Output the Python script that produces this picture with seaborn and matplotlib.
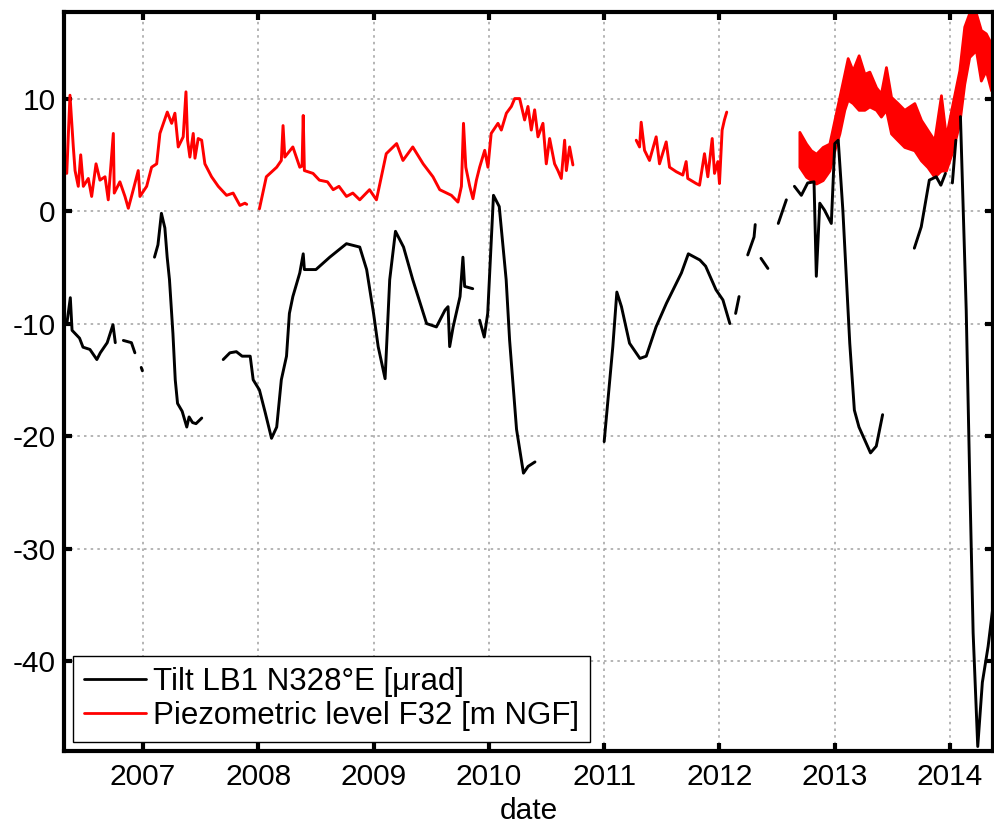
"""
Tilt LB1 vs piezometric level F32, MATLAB-like time series
"""
import numpy as np
import pandas as pd
import matplotlib
matplotlib.use("Agg")
import matplotlib.pyplot as plt
import seaborn as sns
from matplotlib.lines import Line2D
from matplotlib.ticker import MultipleLocator, FormatStrFormatter

nan = np.nan

# ==================== Data (decimal year, value; nan = gap) ====================

tilt_year = [
    2006.34, 2006.37, 2006.385, 2006.45, 2006.48, 2006.54, 2006.60, 2006.63, 2006.69, 2006.74, 2006.76, nan,
    2006.83, 2006.90, 2006.93, nan,
    2006.985, 2006.995, nan,
    2007.10, 2007.13, 2007.16, 2007.19, 2007.21, 2007.23, 2007.26, 2007.28, 2007.30, 2007.34, 2007.38,
    2007.40, 2007.43, 2007.46, 2007.51, nan,
    2007.696, 2007.754, 2007.81, 2007.86, 2007.93, 2007.956, 2008.01, 2008.06, 2008.115, 2008.16, 2008.20,
    2008.245, 2008.27, 2008.30, 2008.36, 2008.39, 2008.40, 2008.50, 2008.62, 2008.765, 2008.88, 2008.94,
    2009.00, 2009.04, 2009.10, 2009.14, 2009.19, 2009.26, 2009.34, 2009.46, 2009.545, 2009.62, 2009.646,
    2009.66, 2009.69, 2009.75, 2009.775, 2009.79, 2009.86, nan,
    2009.92, 2009.96, 2009.99, 2010.04, 2010.09, 2010.15, 2010.18, 2010.24, 2010.30, 2010.34, 2010.40, nan,
    2011.00, 2011.075, 2011.11, 2011.15, 2011.22, 2011.31, 2011.365, 2011.45, 2011.54, 2011.67, 2011.73,
    2011.83, 2011.88, 2011.97, 2012.03, 2012.09, nan,
    2012.14, 2012.17, nan,
    2012.245, 2012.30, 2012.31, nan,
    2012.36, 2012.42, nan,
    2012.51, 2012.58, nan,
    2012.65, 2012.71, 2012.765, 2012.82, 2012.84, 2012.87, 2012.91, 2012.97, 2013.00, 2013.03, 2013.07,
    2013.13, 2013.17, 2013.21, 2013.31, 2013.36, 2013.415, nan,
    2013.69, 2013.75, 2013.82, 2013.88, 2013.92, 2013.96, nan,
    2014.02, 2014.05, nan,
    2014.09, 2014.14, 2014.17, 2014.20, 2014.24, 2014.28, 2014.33, 2014.38,
]
tilt_value = [
    -10.0, -7.7, -10.6, -11.3, -12.1, -12.3, -13.2, -12.6, -11.7, -10.1, -11.7, nan,
    -11.5, -11.7, -12.6, nan,
    -13.9, -14.2, nan,
    -4.1, -3.0, -0.2, -1.5, -4.1, -6.1, -10.9, -15.0, -17.1, -17.8, -19.2,
    -18.3, -18.8, -18.9, -18.4, nan,
    -13.2, -12.6, -12.5, -12.9, -12.9, -15.0, -15.9, -17.9, -20.2, -19.2, -15.0,
    -12.9, -9.1, -7.6, -5.5, -3.8, -5.2, -5.2, -4.1, -2.9, -3.2, -5.2,
    -9.1, -12.05, -14.9, -6.1, -1.8, -3.2, -6.1, -10.0, -10.3, -8.8, -8.5,
    -12.05, -10.3, -7.6, -4.1, -6.7, -6.9, nan,
    -9.7, -11.2, -9.1, 1.4, 0.4, -6.1, -11.5, -19.4, -23.3, -22.7, -22.3, nan,
    -20.5, -12.05, -7.2, -8.5, -11.75, -13.1, -12.9, -10.3, -8.2, -5.5, -3.8,
    -4.35, -4.9, -7.0, -7.9, -10.0, nan,
    -9.1, -7.6, nan,
    -3.9, -2.3, -1.2, nan,
    -4.2, -5.1, nan,
    -1.1, 1.0, nan,
    2.2, 1.4, 2.5, 2.6, -5.8, 0.7, 0.1, -1.1, 6.0, 6.3, 0.1,
    -11.75, -17.7, -19.2, -21.5, -20.9, -18.1, nan,
    -3.3, -1.4, 2.75, 3.05, 2.3, 3.35, nan,
    2.5, 6.3, nan,
    8.4, -8.8, -23.6, -37.5, -47.6, -41.9, -38.7, -34.5,
]

piezo_year = [
    2006.339, 2006.367, 2006.396, 2006.411, 2006.439, 2006.46, 2006.483, 2006.526, 2006.555, 2006.593,
    2006.627, 2006.671, 2006.699, 2006.743, 2006.751, 2006.80, 2006.844, 2006.873, 2006.916, 2006.959,
    2006.974, 2007.032, 2007.075, 2007.119, 2007.147, 2007.211, 2007.249, 2007.277, 2007.306, 2007.349,
    2007.373, 2007.387, 2007.407, 2007.436, 2007.451, 2007.479, 2007.509, 2007.537, 2007.595, 2007.653,
    2007.725, 2007.782, 2007.841, 2007.884, 2007.90, nan,
    2008.01, 2008.07, 2008.16, 2008.20, 2008.215, 2008.23, 2008.30, 2008.36, 2008.38, 2008.39, 2008.40,
    2008.475, 2008.53, 2008.60, 2008.65, 2008.70, 2008.765, 2008.82, 2008.88, 2008.965, 2009.025, 2009.11,
    2009.20, 2009.255, 2009.34, 2009.43, 2009.515, 2009.574, 2009.675, 2009.732, 2009.762, 2009.78,
    2009.80, 2009.834, 2009.862, 2009.892, 2009.92, 2009.964, 2009.992, 2010.02, 2010.079, 2010.108,
    2010.152, 2010.195, 2010.224, 2010.267, 2010.31, 2010.339, 2010.368, 2010.397, 2010.426, 2010.469,
    2010.498, 2010.527, 2010.57, 2010.599, 2010.628, 2010.657, 2010.672, 2010.70, 2010.729, nan,
    2011.278, 2011.307, 2011.321, 2011.35, 2011.393, 2011.451, 2011.48, 2011.538, 2011.567, 2011.625,
    2011.682, 2011.711, 2011.725, 2011.798, 2011.827, 2011.87, 2011.899, 2011.937, 2011.957, 2011.986,
    2012.0, 2012.023, 2012.043, 2012.063,
]
piezo_value = [
    3.35, 10.3, 5.7, 3.6, 2.2, 5.0, 2.2, 2.9, 1.3, 4.2,
    2.75, 3.05, 1.0, 6.9, 1.6, 2.6, 1.3, 0.25, 1.9, 3.6,
    1.3, 2.2, 3.9, 4.2, 6.9, 8.8, 7.8, 8.7, 5.7, 6.6,
    10.6, 6.3, 4.8, 6.9, 4.7, 6.45, 6.3, 4.2, 3.05, 2.2,
    1.4, 1.6, 0.5, 0.7, 0.6, nan,
    0.2, 3.05, 3.9, 4.5, 7.6, 4.8, 5.7, 3.9, 4.0, 8.5, 3.6,
    3.35, 2.75, 2.6, 1.9, 2.2, 1.3, 1.6, 1.0, 1.9, 1.0, 5.1,
    6.0, 4.5, 5.7, 4.2, 3.05, 1.9, 1.4, 0.8, 2.2, 7.8,
    3.9, 2.2, 1.1, 2.75, 3.9, 5.4, 3.9, 6.9, 7.8, 7.2,
    8.7, 9.3, 10.0, 10.0, 8.1, 9.3, 7.2, 9.0, 6.6, 7.8,
    4.2, 6.45, 4.2, 3.6, 2.9, 6.3, 3.6, 5.7, 4.1, nan,
    6.3, 5.7, 7.9, 5.4, 4.5, 6.6, 4.2, 6.15, 3.9, 3.5,
    3.2, 4.4, 2.9, 2.45, 2.3, 5.1, 3.05, 6.45, 3.35, 4.4,
    2.45, 7.2, 8.1, 8.8,
]

# 2012.7-2014.4: hourly noise makes a dense band, kept as upper / lower envelope
band_year = [2012.693, 2012.751, 2012.794, 2012.838, 2012.895, 2012.953, 2012.997, 2013.04, 2013.083,
             2013.112, 2013.155, 2013.207, 2013.257, 2013.30, 2013.358, 2013.40, 2013.444, 2013.488,
             2013.545, 2013.603, 2013.69, 2013.748, 2013.805, 2013.863, 2013.921, 2013.964, 2014.022,
             2014.08, 2014.123, 2014.166, 2014.224, 2014.267, 2014.31, 2014.355, 2014.38]
band_upper = [7.04, 6.0, 5.4, 5.1, 5.7, 6.0, 8.1, 10.15, 12.2,
              13.6, 12.5, 13.85, 12.2, 12.4, 11.0, 10.45, 12.8, 10.15,
              9.6, 9.0, 9.6, 8.1, 7.2, 6.3, 10.3, 6.6, 9.6,
              12.5, 16.4, 17.6, 17.6, 16.1, 15.8, 14.9, 14.6]
band_lower = [3.94, 3.05, 2.75, 2.45, 2.75, 3.6, 5.4, 6.9, 9.0,
              9.9, 9.6, 9.0, 9.0, 9.3, 9.0, 8.4, 9.0, 6.9,
              6.3, 5.7, 5.4, 4.5, 3.9, 3.05, 3.6, 3.6, 5.4,
              7.8, 11.3, 13.7, 14.3, 11.6, 12.5, 10.75, 10.45]

tilt_label = "Tilt LB1 N328°E [μrad]"
piezo_label = "Piezometric level F32 [m NGF]"

# ==================== Style ====================

sns.set_style("ticks")
plt.rcParams.update({
    'font.family': ['Liberation Sans', 'DejaVu Sans'],
    'font.size': 21.5,
    'axes.unicode_minus': False,
    'axes.linewidth': 3,
    'text.color': 'black',
    'axes.labelcolor': 'black',
    'xtick.color': 'black',
    'ytick.color': 'black',
    'axes.edgecolor': 'black',
})


def to_frame(years, values, name):
    """Long table with a segment id that increases at every gap"""
    df = pd.DataFrame({'year': years, 'value': values})
    df['segment'] = df['value'].isna().cumsum()
    df['series'] = name
    return df.dropna()


data = pd.concat([to_frame(tilt_year, tilt_value, tilt_label),
                  to_frame(piezo_year, piezo_value, piezo_label)], ignore_index=True)
data['unit'] = data['series'] + data['segment'].astype(str)

palette = {tilt_label: 'black', piezo_label: '#ff0000'}

fig = plt.figure(figsize=(9.95, 8.26), dpi=100)
ax = fig.add_axes([0.0643, 0.0908, 0.934, 0.8947])

# red first, black on top
ax.fill_between(band_year, band_lower, band_upper, color='#ff0000', lw=2.0, zorder=2)
sns.lineplot(data=data[data['series'] == piezo_label], x='year', y='value', units='unit',
             estimator=None, sort=False, color='#ff0000', linewidth=2.1, ax=ax, zorder=2)
sns.lineplot(data=data[data['series'] == tilt_label], x='year', y='value', units='unit',
             estimator=None, sort=False, color='black', linewidth=2.1, ax=ax, zorder=3)

ax.set_xlim(2006.315, 2014.375)
ax.set_ylim(-48.0, 17.7)
ax.xaxis.set_major_locator(MultipleLocator(1))
ax.xaxis.set_major_formatter(FormatStrFormatter('%d'))
ax.yaxis.set_major_locator(MultipleLocator(10))
ax.yaxis.set_major_formatter(FormatStrFormatter('%d'))

ax.grid(True, color='#a8a8a8', linestyle=(0, (1.5, 2.5)), linewidth=1.2)
ax.set_axisbelow(True)
ax.tick_params(direction='in', length=6, width=3, top=True, right=True,
               colors='black', labelcolor='black')
ax.tick_params(axis='x', pad=9)
ax.tick_params(axis='y', pad=6)
for spine in ax.spines.values():
    spine.set_visible(True)
    spine.set_color('black')

ax.set_xlabel('date', labelpad=4, color='black')
ax.set_ylabel('')

handles = [Line2D([], [], color=palette[k], lw=2.0) for k in (tilt_label, piezo_label)]
leg = ax.legend(handles, [tilt_label, piezo_label], loc='lower left',
                bbox_to_anchor=(0.0097, 0.012), borderaxespad=0, frameon=True,
                fancybox=False, edgecolor='black', framealpha=1, handlelength=2.0,
                handletextpad=0.22, labelspacing=0.15, borderpad=0.35, fontsize=22.5)
leg.get_frame().set_linewidth(1.0)
for text in leg.get_texts():
    text.set_color('black')

fig.savefig('out.png', dpi=100)
